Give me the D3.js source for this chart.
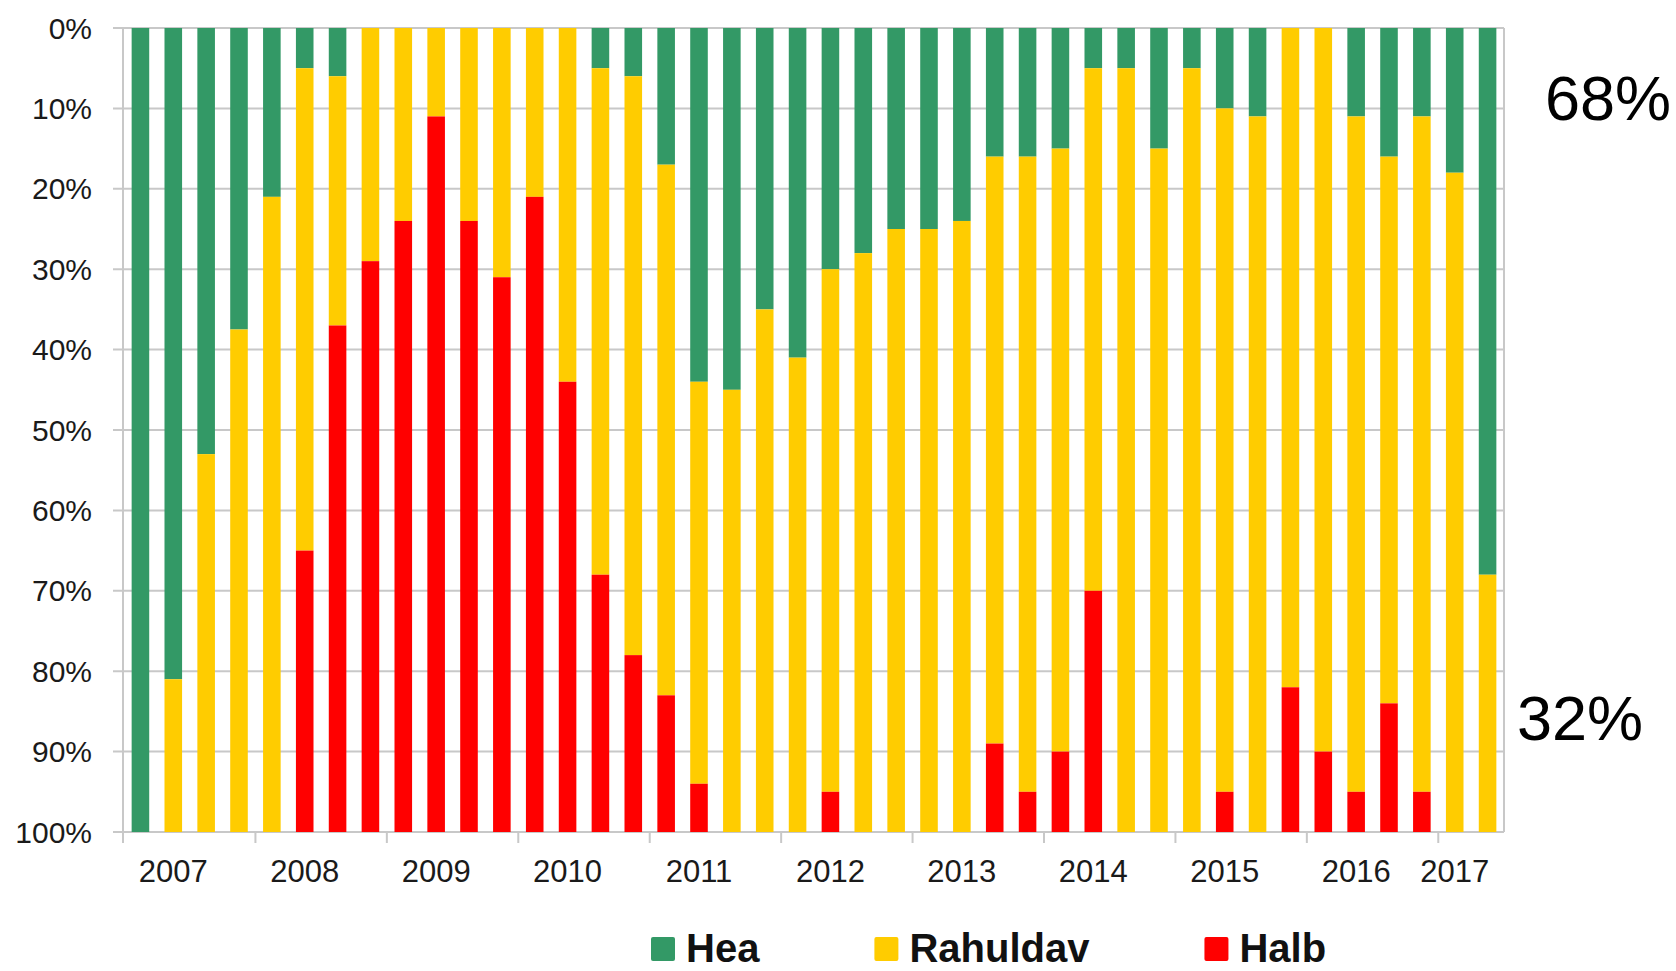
<!DOCTYPE html>
<html>
<head>
<meta charset="utf-8">
<script src="https://cdn.jsdelivr.net/npm/d3@7"></script>
<style>
  html, body { margin: 0; padding: 0; background: #fff; }
  svg { display: block; font-family: "Liberation Sans", Arial, sans-serif; }
</style>
</head>
<body>
<svg id="chart" width="1676" height="971"></svg>
<script>
  // quarterly shares, 2007 Q1 .. 2017 Q2
  const years = [2007, 2008, 2009, 2010, 2011, 2012, 2013, 2014, 2015, 2016, 2017];
  const quartersPerYear = [4, 4, 4, 4, 4, 4, 4, 4, 4, 4, 2];
  const seriesNames = ["Hea", "Rahuldav", "Halb"];
  const seriesColors = ["#339966", "#ffcc00", "#ff0000"];

  const hea = [100, 81, 53, 37.5, 21, 5, 6, 0, 0, 0, 0, 0, 0, 0, 5, 6, 17, 44, 45, 35, 41,
    30, 28, 25, 25, 24, 16, 16, 15, 5, 5, 15, 5, 10, 11, 0, 0, 11, 16, 11, 18, 68];
  const rahuldav = [0, 19, 47, 62.5, 79, 60, 31, 29, 24, 11, 24, 31, 21, 44, 63, 72, 66, 50, 55, 65, 59,
    65, 72, 75, 75, 76, 73, 79, 75, 65, 95, 85, 95, 85, 89, 82, 90, 84, 68, 84, 82, 32];
  const halb = [0, 0, 0, 0, 0, 35, 63, 71, 76, 89, 76, 69, 79, 56, 32, 22, 17, 6, 0, 0, 0,
    5, 0, 0, 0, 0, 11, 5, 10, 30, 0, 0, 0, 5, 0, 18, 10, 5, 16, 5, 0, 0];

  const yTicks = [0, 10, 20, 30, 40, 50, 60, 70, 80, 90, 100];
  const notes = [{ text: "68%", x: 1545, y: 120 }, { text: "32%", x: 1517, y: 740 }];

  const quarters = [];
  years.forEach((yr, i) => {
    for (let q = 1; q <= quartersPerYear[i]; q++) quarters.push(yr + " Q" + q);
  });
  const rows = quarters.map((q, i) => ({ q, Hea: hea[i], Rahuldav: rahuldav[i], Halb: halb[i] }));

  const svg = d3.select("#chart");
  const plotL = 124, plotR = 1504, plotT = 28, plotB = 832;
  const gridColor = "#c8c8c8";

  const x = d3.scaleBand().domain(quarters).range([plotL, plotR]).padding(0);
  const y = d3.scaleLinear().domain([0, 100]).range([plotT, plotB]);
  const color = d3.scaleOrdinal().domain(seriesNames).range(seriesColors);
  const barW = x.step() * 0.535;

  // grid + y labels
  svg.append("g").selectAll("line").data(yTicks).join("line")
    .attr("x1", plotL - 11).attr("x2", plotR)
    .attr("y1", d => y(d)).attr("y2", d => y(d))
    .attr("stroke", gridColor).attr("stroke-width", 2);
  svg.append("g").selectAll("text").data(yTicks).join("text")
    .attr("x", 92).attr("y", d => y(d)).attr("dy", "0.35em")
    .attr("text-anchor", "end").attr("font-size", 30).attr("fill", "#1a1a1a")
    .text(d => d + "%");

  // stacked bars (Hea from the top)
  const stack = d3.stack().keys(seriesNames)(rows);
  svg.append("g").selectAll("g").data(stack).join("g")
    .attr("fill", d => color(d.key))
    .selectAll("rect").data(d => d).join("rect")
    .attr("x", d => x(d.data.q) + (x.step() - barW) / 2)
    .attr("width", barW)
    .attr("y", d => y(d[0]))
    .attr("height", d => y(d[1]) - y(d[0]));

  // frame
  svg.append("line").attr("x1", plotL - 1).attr("x2", plotL - 1).attr("y1", plotT).attr("y2", plotB + 11)
    .attr("stroke", gridColor).attr("stroke-width", 2);
  svg.append("line").attr("x1", plotR).attr("x2", plotR).attr("y1", plotT).attr("y2", plotB)
    .attr("stroke", gridColor).attr("stroke-width", 2);

  // year ticks and labels
  let start = 0;
  const groups = years.map((yr, i) => {
    const g = { yr, start, n: quartersPerYear[i] };
    start += quartersPerYear[i];
    return g;
  });
  const xg = svg.append("g");
  xg.selectAll("line").data(groups.slice(1)).join("line")
    .attr("x1", d => x(quarters[d.start])).attr("x2", d => x(quarters[d.start]))
    .attr("y1", plotB).attr("y2", plotB + 11)
    .attr("stroke", gridColor).attr("stroke-width", 2);
  xg.selectAll("text").data(groups).join("text")
    .attr("x", d => x(quarters[d.start]) + (d.n - 1) * x.step() / 2)
    .attr("y", 882).attr("text-anchor", "middle")
    .attr("font-size", 31).attr("fill", "#1a1a1a")
    .text(d => d.yr);

  // legend (nudged up a little so it stays inside the picture)
  const legend = svg.append("g").attr("transform", "translate(651,-5)");
  let lx = 0;
  seriesNames.forEach(name => {
    const item = legend.append("g").attr("transform", `translate(${lx},0)`);
    item.append("rect").attr("x", 0).attr("y", 942).attr("width", 24).attr("height", 24)
      .attr("rx", 2).attr("fill", color(name));
    const t = item.append("text").attr("x", 35).attr("y", 967)
      .attr("font-size", 40).attr("font-weight", "bold").attr("fill", "#111").text(name);
    lx += 35 + t.node().getComputedTextLength() + 115;
  });

  // side notes
  svg.append("g").selectAll("text").data(notes).join("text")
    .attr("x", d => d.x).attr("y", d => d.y)
    .attr("font-size", 63).attr("fill", "#000")
    .text(d => d.text);
</script>
</body>
</html>
